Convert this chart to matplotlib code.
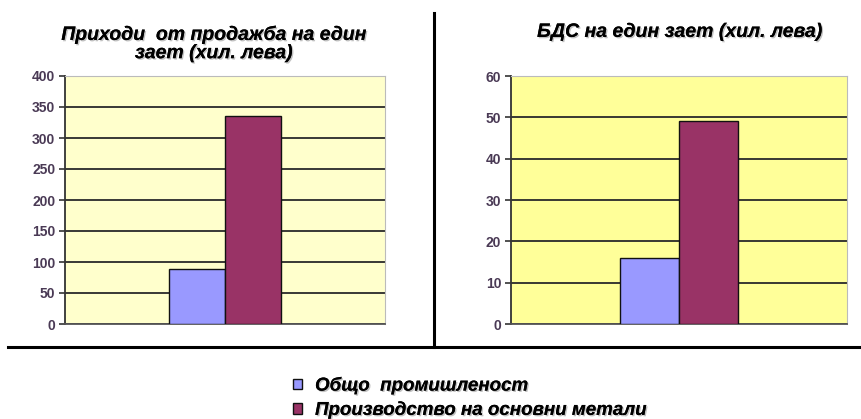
import matplotlib.pyplot as plt
import matplotlib.patheffects as pe
from matplotlib.lines import Line2D

plt.rcParams['font.family'] = ['Liberation Sans', 'DejaVu Sans']

series_names = ['Общо  промишленост', 'Производство на основни метали']
series_colors = ['#9999FF', '#993366']

# приходи от продажба на един зает (хил. лева)
revenue = [88, 336]
revenue_ticks = [0, 50, 100, 150, 200, 250, 300, 350, 400]

# БДС на един зает (хил. лева)
gva = [16, 49]
gva_ticks = [0, 10, 20, 30, 40, 50, 60]

titles = ['Приходи  от продажба на един\nзает (хил. лева)',
          'БДС на един зает (хил. лева)']

W, H = 861, 419
fig = plt.figure(figsize=(W / 100, H / 100), dpi=100)


def px_axes(x0, y0, x1, y1):
    # pixel box (top-left origin) -> figure fraction
    return fig.add_axes([x0 / W, 1 - y1 / H, (x1 - x0) / W, (y1 - y0) / H])


shadow = [pe.withSimplePatchShadow(offset=(1, -1), shadow_rgbFace='#999999', alpha=0.6),
          pe.Normal()]


def bar_panel(ax, values, ticks, bg):
    ax.set_facecolor(bg)
    w = 0.175
    bars = []
    for i, (v, c) in enumerate(zip(values, series_colors)):
        b = ax.bar((i - 0.5) * w, v, width=w, color=c, edgecolor='#111111',
                   linewidth=1.0, zorder=3)
        bars.append(b)
    ax.set_xlim(-0.5, 0.5)
    ax.set_ylim(ticks[0], ticks[-1])
    ax.set_yticks(ticks)
    ax.set_xticks([])
    ax.yaxis.grid(True, color='#2a2a2a', linewidth=1.3, zorder=1)
    ax.set_axisbelow(True)
    ax.tick_params(axis='y', length=4, width=1.2, color='#333333', pad=3,
                   labelsize=10, labelcolor='#4a3a55')
    for lbl in ax.get_yticklabels():
        lbl.set_fontweight('bold')
    ax.spines['left'].set_color('#333333')
    ax.spines['left'].set_linewidth(1.3)
    ax.spines['bottom'].set_color('#555555')
    ax.spines['bottom'].set_linewidth(1.3)
    ax.spines['right'].set_color('#bbbbbb')
    ax.spines['top'].set_color('#bbbbbb')
    return bars


ax1 = px_axes(65, 76, 385, 324)
bars = bar_panel(ax1, revenue, revenue_ticks, '#FFFFCC')
ax2 = px_axes(511, 76, 847, 324)
bar_panel(ax2, gva, gva_ticks, '#FFFF99')

fig.text(214 / W, 1 - 44 / H, titles[0], ha='center', va='center',
         fontsize=14, fontweight='bold', style='italic', linespacing=1.1,
         path_effects=shadow)
fig.text(680 / W, 1 - 32 / H, titles[1], ha='center', va='center',
         fontsize=14, fontweight='bold', style='italic', path_effects=shadow)

# разделителни линии
fig.add_artist(Line2D([434 / W, 434 / W], [1 - 13 / H, 1 - 347 / H],
                      color='black', linewidth=2.2))
fig.add_artist(Line2D([8 / W, 1.0], [1 - 347 / H, 1 - 347 / H],
                      color='black', linewidth=2.2))

leg = fig.legend([b[0] for b in bars], series_names, loc='upper left',
                 bbox_to_anchor=(285 / W, 1 - 369 / H), frameon=False,
                 handlelength=0.5, handleheight=0.5, handletextpad=0.7,
                 labelspacing=0.35, borderaxespad=0,
                 prop={'weight': 'bold', 'style': 'italic', 'size': 13.5})
for t in leg.get_texts():
    t.set_path_effects(shadow)

fig.savefig('out.png', dpi=100)
